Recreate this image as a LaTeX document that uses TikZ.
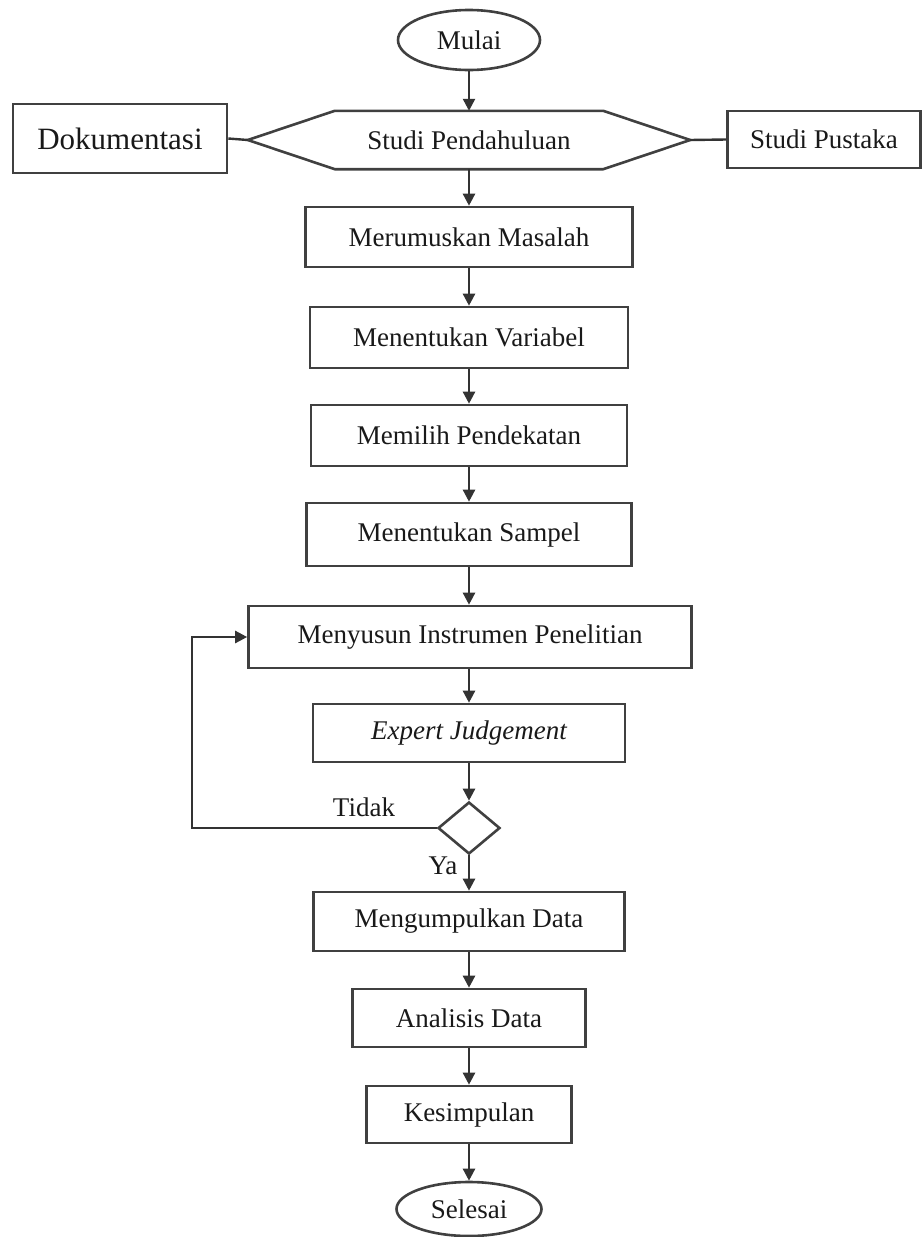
\documentclass[tikz,border=0pt]{standalone}
\usepackage{fontspec}
\setmainfont{Liberation Serif}
\usetikzlibrary{shapes.geometric,arrows.meta}
\begin{document}
\begin{tikzpicture}[x=1pt,y=-1pt,
  lbl/.style={font=\fontsize{27}{32}\selectfont, text=black!90, inner sep=0pt},
  box/.style={lbl, draw=black!75, line width=2.6pt, rectangle},
  term/.style={lbl, draw=black!75, line width=2.6pt, ellipse},
  conn/.style={draw=black!80, line width=2.4pt},
  arr/.style={conn, -{Triangle[length=12pt,width=12pt]}},
]
\useasboundingbox (0,0) rectangle (923,1237);

% terminals
\node[term, minimum width=142pt, minimum height=60pt] (mulai) at (469,40) {Mulai};
\node[term, minimum width=145pt, minimum height=54pt] (selesai) at (469,1209) {Selesai};

% hexagon (preparation)
\node[lbl, minimum width=442pt, minimum height=58pt] (studi) at (469,140) {Studi Pendahuluan};
\draw[draw=black!75, line width=2.6pt, line join=miter]
  (studi.west) -- ([xshift=87pt]studi.north west) -- ([xshift=-87pt]studi.north east)
  -- (studi.east) -- ([xshift=-87pt]studi.south east) -- ([xshift=87pt]studi.south west) -- cycle;

\node[box, minimum width=214pt, minimum height=69pt, font=\fontsize{31}{36}\selectfont] (dok) at (120,138.5) {Dokumentasi};
\node[box, minimum width=193pt, minimum height=57pt] (pustaka) at (824,139.5) {Studi Pustaka};

% process boxes
\node[box, minimum width=327pt, minimum height=60pt] (b1) at (469,237) {Merumuskan Masalah};
\node[box, minimum width=318pt, minimum height=61pt] (b2) at (469,337.5) {Menentukan Variabel};
\node[box, minimum width=316pt, minimum height=61pt] (b3) at (469,435.5) {Memilih Pendekatan};
\node[box, minimum width=325pt, minimum height=63pt] (b4) at (469,534.5) {Menentukan Sampel};
\node[box, minimum width=443pt, minimum height=62pt] (b5) at (470,637) {Menyusun Instrumen Penelitian};
\node[box, minimum width=312pt, minimum height=58pt] (b6) at (469,733) {\itshape Expert Judgement};
\node[lbl, diamond, draw=black!75, line width=2.6pt, minimum width=62pt, minimum height=52pt] (dec) at (469,828) {};
\node[box, minimum width=311pt, minimum height=59pt] (b7) at (469,921.5) {Mengumpulkan Data};
\node[box, minimum width=233pt, minimum height=58pt] (b8) at (469,1018) {Analisis Data};
\node[box, minimum width=205pt, minimum height=57pt] (b9) at (469,1114.5) {Kesimpulan};

% labels
\node[lbl] (tidak) at (364,807) {Tidak};
\node[lbl] (ya) at (443,866) {Ya};

% connectors
\draw[arr] (mulai) -- (studi.north);
\draw[conn] (dok.east) -- (studi.west);
\draw[conn] (studi.east) -- (pustaka.west);
\draw[arr] (studi.south) -- (b1.north);
\draw[arr] (b1) -- (b2);
\draw[arr] (b2) -- (b3);
\draw[arr] (b3) -- (b4);
\draw[arr] (b4.south) -- (b4.south |- b5.north);
\draw[arr] (b5.south -| b6.north) -- (b6.north);
\draw[arr] (b6) -- (dec);
\coordinate (loop) at (192,828);
\draw[arr] (dec.west) -- (loop) |- (b5.west);
\draw[arr] (dec) -- (b7);
\draw[arr] (b7) -- (b8);
\draw[arr] (b8) -- (b9);
\draw[arr] (b9) -- (selesai);
\end{tikzpicture}
\end{document}
